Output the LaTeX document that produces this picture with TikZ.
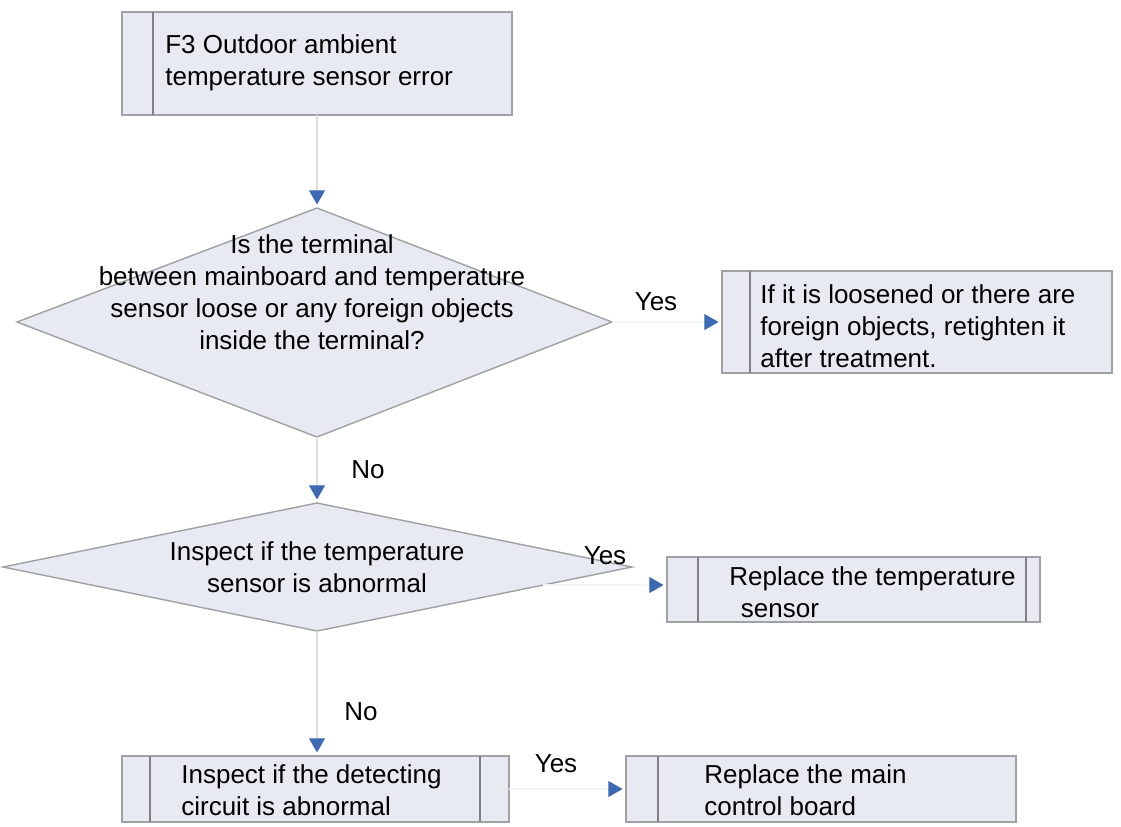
\documentclass[tikz,border=0pt]{standalone}
\usepackage{fontspec}
\setmainfont{Liberation Sans}
\usetikzlibrary{arrows.meta}
\definecolor{boxfill}{RGB}{231,234,241}
\definecolor{boxline}{RGB}{160,160,165}
\definecolor{tipblue}{RGB}{60,105,180}
\tikzset{
  procbox/.style={draw=boxline, fill=boxfill, line width=0.8pt},
  inner/.style={draw=boxline!80!black, line width=0.8pt},
  conn/.style={draw=gray!25, line width=0.6pt, -{Triangle[length=8pt,width=9pt,color=tipblue]}, shorten >=2pt},
  hconn/.style={draw=gray!8, line width=0.6pt, -{Triangle[length=8pt,width=9pt,color=tipblue]}, shorten >=2pt},
  txt/.style={font=\fontsize{14.8}{18.3}\selectfont, inner sep=0pt},
  lbl/.style={font=\fontsize{14.8}{18}\selectfont, inner sep=0pt}
}
\begin{document}
\begin{tikzpicture}[x=0.02cm,y=-0.02cm]
\useasboundingbox (0,0) rectangle (1121,826);
% top box
\draw[procbox] (122,12) rectangle (512,115);
\draw[inner] (153,12) -- (153,115);
\node[txt, align=left, anchor=west] (t0) at (165,63) {F3 Outdoor ambient\\temperature sensor error};
\coordinate (b0) at (317,115);
% diamond 1
\draw[procbox] (17,322) -- (317,208) -- (612,322) -- (317,437) -- cycle;
\coordinate (d1t) at (317,208); \coordinate (d1r) at (612,322); \coordinate (d1b) at (317,437);
\node[txt, align=center] (t1) at (312,292) {Is the terminal\\between mainboard and temperature\\sensor loose or any foreign objects\\inside the terminal?};
% box 1
\draw[procbox] (722,271) rectangle (1112,373);
\draw[inner] (750,271) -- (750,373);
\coordinate (b1l) at (722,322);
\node[txt, align=left, anchor=west] (t2) at (760,326) {If it is loosened or there are\\foreign objects, retighten it\\after treatment.};
% diamond 2
\draw[procbox] (3,567) -- (317,503) -- (632,567) -- (317,631) -- cycle;
\coordinate (d2t) at (317,503); \coordinate (d2r) at (543,585); \coordinate (d2b) at (317,631);
\node[txt, align=center] (t3) at (317,567) {Inspect if the temperature\\sensor is abnormal};
% box 2
\draw[procbox] (667,557) rectangle (1040,622);
\draw[inner] (698,557) -- (698,622);
\draw[inner] (1026,557) -- (1026,622);
\coordinate (b2l) at (667,585);
\node[txt, align=left, anchor=west] (t4) at (729,592) {Replace the temperature\\\ \,sensor};
% box 3
\draw[procbox] (122,756) rectangle (509,822);
\draw[inner] (150,756) -- (150,822);
\draw[inner] (480,756) -- (480,822);
\coordinate (b3t) at (317,756); \coordinate (b3r) at (509,789);
\node[txt, align=left, anchor=west] (t5) at (181,790) {Inspect if the detecting\\circuit is abnormal};
% box 4
\draw[procbox] (626,756) rectangle (1016,822);
\draw[inner] (658,756) -- (658,822);
\coordinate (b4l) at (626,789);
\node[txt, align=left, anchor=west] (t6) at (704,790) {Replace the main\\control board};
% connectors
\draw[conn] (b0) -- (d1t);
\draw[hconn] (d1r) -- (b1l);
\draw[conn] (d1b) -- (d2t);
\draw[hconn] (d2r) -- (b2l);
\draw[conn] (d2b) -- (b3t);
\draw[hconn] (b3r) -- (b4l);
% labels
\node[lbl] (y1) at (656,302) {Yes};
\node[lbl] (n1) at (368,470) {No};
\node[lbl] (y2) at (605,556) {Yes};
\node[lbl] (n2) at (361,712) {No};
\node[lbl] (y3) at (556,764) {Yes};
\end{tikzpicture}
\end{document}
